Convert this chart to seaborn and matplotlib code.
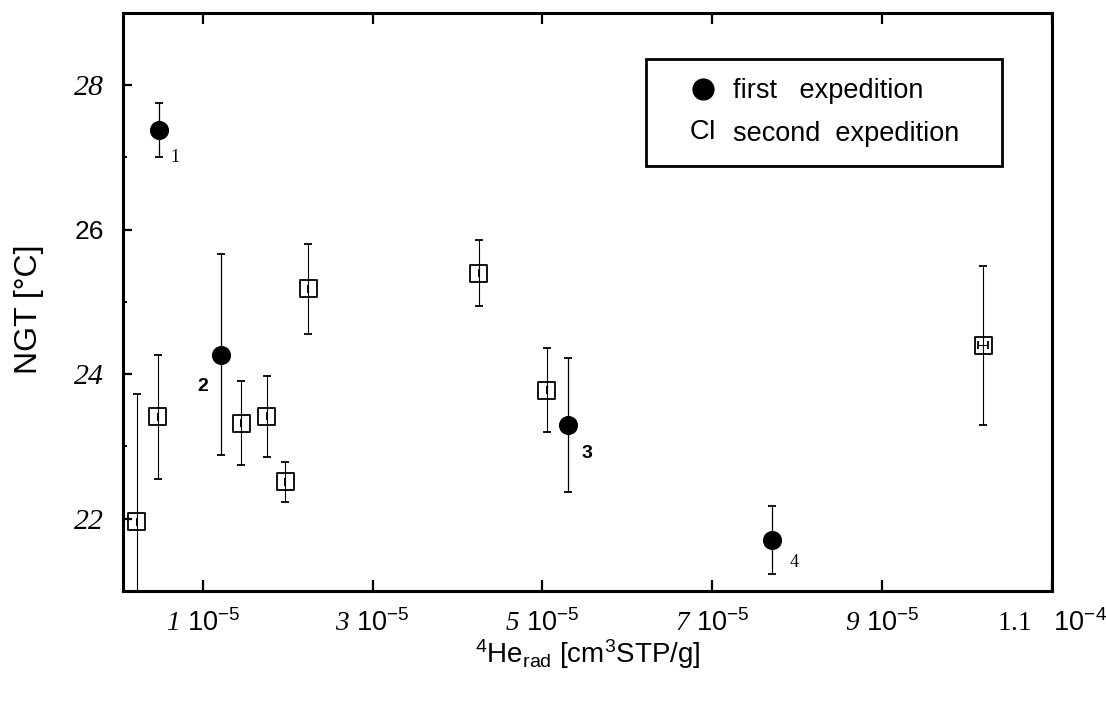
import numpy as np
import pandas as pd
import matplotlib
matplotlib.use("Agg")
import matplotlib.pyplot as plt
import seaborn as sns
from matplotlib.legend_handler import HandlerBase
from matplotlib.lines import Line2D
from matplotlib.text import Text
from matplotlib.ticker import FixedLocator

# ---------------- data ----------------
first_x = [0.48e-5, 1.22e-5, 5.30e-5, 7.70e-5]
first_ngt = [27.38, 24.27, 23.30, 21.71]
first_err = [0.37, 1.39, 0.93, 0.47]
first_ids = ["1", "2", "3", "4"]

second_x = [0.22e-5, 0.47e-5, 1.45e-5, 1.75e-5, 1.97e-5, 2.24e-5, 4.25e-5, 5.05e-5, 10.19e-5]
second_ngt = [21.96, 23.41, 23.32, 23.42, 22.51, 25.18, 25.40, 23.78, 24.40]
second_err = [1.77, 0.86, 0.58, 0.56, 0.28, 0.62, 0.46, 0.58, 1.10]
second_xerr = [0, 0, 0, 0, 0, 0, 0, 0, 0.06e-5]

x_ticks = [1e-5, 3e-5, 5e-5, 7e-5, 9e-5, 1.1e-4]
x_tick_mant = ["1", "3", "5", "7", "9", "1.1"]
x_tick_exp = ["-5", "-5", "-5", "-5", "-5", "-4"]
y_ticks = [22, 24, 26, 28]
y_tick_labels = ["22", "24", "26", "28"]
y_tick_italic = [True, True, False, True]
y_minor = [23, 25, 27]

legend_labels = ["first   expedition", "second  expedition"]
x_label = r"$^{4}$He$_{\mathrm{rad}}$ [cm$^{3}$STP/g]"
y_label = "NGT [°C]"

# ---------------- style ----------------
sns.set_theme(style="ticks")
plt.rcParams["font.family"] = ["Liberation Sans", "DejaVu Sans"]
plt.rcParams.update({
    "mathtext.fontset": "custom",
    "mathtext.rm": "Liberation Sans",
    "mathtext.sf": "Liberation Sans",
    "mathtext.it": "Liberation Sans:italic",
    "mathtext.bf": "Liberation Sans:bold",
    "mathtext.cal": "Liberation Serif:italic",
    "mathtext.tt": "Liberation Serif",
    "axes.edgecolor": "black",
    "xtick.color": "black",
    "ytick.color": "black",
    "axes.labelcolor": "black",
    "text.color": "black",
})

df1 = pd.DataFrame({"x": first_x, "ngt": first_ngt, "err": first_err, "id": first_ids})
df2 = pd.DataFrame({"x": second_x, "ngt": second_ngt, "err": second_err, "xerr": second_xerr})

fig = plt.figure(figsize=(11.06, 7.01), dpi=100)
ax = fig.add_axes([0.1112, 0.157, 0.84, 0.8245])

# error bars
ax.errorbar(df2["x"], df2["ngt"], yerr=df2["err"], xerr=df2["xerr"], fmt="none",
            ecolor="black", elinewidth=0.8, capsize=3, capthick=1.3, zorder=2)
ax.errorbar(df1["x"], df1["ngt"], yerr=df1["err"], fmt="none",
            ecolor="black", elinewidth=0.9, capsize=3, capthick=1.3, zorder=2)

# markers
sns.scatterplot(data=df2, x="x", y="ngt", marker="s", s=150, color="black",
                facecolors="none", edgecolor="black", linewidth=1.3,
                legend=False, ax=ax, zorder=3)
sns.scatterplot(data=df1, x="x", y="ngt", marker="o", s=190, color="black",
                edgecolor="black", linewidth=0, legend=False, ax=ax, zorder=4)

# point labels
label_styles = {
    "1": dict(offset=(11.5, -19.5), family="Liberation Serif", weight="normal", size=13),
    "2": dict(offset=(-13.7, -23), family="Liberation Sans", weight="bold", size=14),
    "3": dict(offset=(13.7, -21), family="Liberation Sans", weight="bold", size=14),
    "4": dict(offset=(16, -16.5), family="Liberation Serif", weight="normal", size=13),
}
for _, r in df1.iterrows():
    st = label_styles[r["id"]]
    ax.annotate(r["id"], xy=(r["x"], r["ngt"]), xytext=st["offset"],
                textcoords="offset points", ha="center", va="center",
                fontsize=st["size"], fontfamily=st["family"], fontweight=st["weight"])

# axes limits / ticks
ax.set_xlim(0.06e-5, 11e-5)
ax.set_ylim(21, 29)

def xfmt(m, e):
    mant = r"\mathtt{%s}\quad" % m if "." in m else r"\mathcal{%s}\ " % m
    return r"$%s\mathrm{10}^{%s}$" % (mant, e)

ax.set_xticks(x_ticks, labels=[xfmt(m, e) for m, e in zip(x_tick_mant, x_tick_exp)])
ax.set_yticks(y_ticks, labels=y_tick_labels)
ax.yaxis.set_minor_locator(FixedLocator(y_minor))
ax.xaxis.set_minor_locator(FixedLocator([]))

ax.tick_params(axis="x", which="major", direction="in", length=8, width=1.6,
               top=True, bottom=True, labelsize=19.5, pad=13)
ax.tick_params(axis="y", which="major", direction="in", length=6.5, width=1.6,
               left=True, right=False, labelsize=19, pad=14)
ax.tick_params(axis="y", which="minor", direction="in", length=3, width=1.4,
               left=True, right=False)
for lab, it in zip(ax.get_yticklabels(), y_tick_italic):
    if it:
        lab.set_fontfamily("Liberation Serif")
        lab.set_fontstyle("italic")
        lab.set_fontsize(21.5)

for sp in ax.spines.values():
    sp.set_linewidth(2.2)
    sp.set_color("black")

ax.set_xlabel(x_label, fontsize=20)
ax.set_ylabel(y_label, fontsize=23)
ax.xaxis.set_label_coords(0.5, -0.08)
ax.yaxis.set_label_coords(-0.085, 0.487)

# legend
class RightMarkerHandler(HandlerBase):
    def create_artists(self, legend, orig_handle, xdescent, ydescent, width, height, fontsize, trans):
        x = width - xdescent - 0.81 * fontsize
        y = height / 2 - ydescent
        ln = Line2D([x], [y], marker="o", markersize=15, color="black",
                    linestyle="none", transform=trans)
        return [ln]

class TextHandleHandler(HandlerBase):
    def create_artists(self, legend, orig_handle, xdescent, ydescent, width, height, fontsize, trans):
        x = width - xdescent - 0.3 * fontsize
        y = height / 2 - ydescent
        t = Text(x, y, "CI", ha="right", va="center", fontsize=fontsize,
                 fontfamily="Liberation Sans", color="black", transform=trans)
        return [t]

h1 = Line2D([], [], marker="o", color="black", linestyle="none")
h2 = Line2D([], [], color="black", linestyle="none")
leg = ax.legend([h1, h2], legend_labels,
                handler_map={h1: RightMarkerHandler(), h2: TextHandleHandler()},
                loc="upper left", bbox_to_anchor=(0.563, 0.5, 0.383, 0.42),
                mode="expand", borderaxespad=0,
                prop={"family": "Liberation Sans", "size": 19.5},
                handlelength=2.2, handletextpad=0.3, borderpad=0.7, labelspacing=0.63,
                frameon=True, fancybox=False, framealpha=1, edgecolor="black")
leg.get_frame().set_linewidth(2.0)

fig.savefig("out.png", dpi=100, facecolor="white")
